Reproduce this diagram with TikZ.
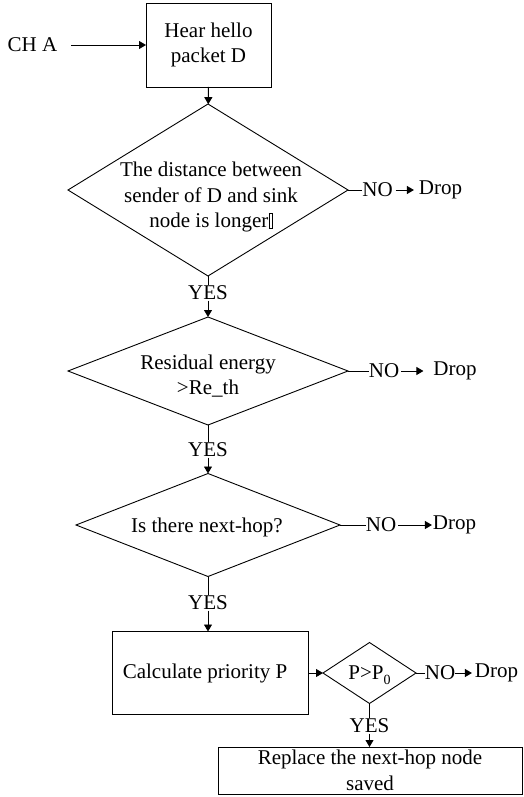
\documentclass[tikz,border=0pt]{standalone}
\usepackage{fontspec}
\setmainfont{Liberation Serif}
\usetikzlibrary{shapes.geometric,arrows.meta}
% empty glyph box printed after "longer"
\newcommand\missingglyph{\kern0.5pt\raisebox{-0.5pt}{\setlength\fboxsep{0pt}\setlength\fboxrule{0.6pt}\fbox{\rule{0pt}{14pt}\rule{2.5pt}{0pt}}}}

\begin{document}
\begin{tikzpicture}[x=1pt,y=-1pt,
  every node/.style={font=\fontsize{21}{25.5}\selectfont, inner sep=0pt, outer sep=0pt},
  stepbox/.style={draw, line width=0.9pt, rectangle, align=center},
  decision/.style={draw, line width=0.9pt, diamond},
  lab/.style={inner sep=0.5pt},
  line/.style={line width=0.9pt},
  arr/.style={line width=0.9pt, -{Triangle[length=7pt,width=8pt]}},
]
\useasboundingbox (0,0) rectangle (524,797);

% process boxes
\node[stepbox, minimum width=125pt, minimum height=84pt] (hear) at (208.5,45) {Hear hello\\packet D};
\node[inner xsep=14pt] (cha) at (32.5,45) {CH A};
\node[stepbox, minimum width=196pt, minimum height=83pt] (calc) at (210,673) {Calculate priority P\hspace*{10pt}};
\node[stepbox, minimum width=304pt, minimum height=47pt] (rep) at (370,770.5) {Replace the next-hop node\\saved};

% decisions
\node[decision, minimum width=280pt, minimum height=172pt] (d1) at (208,190) {};
\node[align=center] (d1t) at (211,197) {The distance between\\sender of D and sink\\node is longer\missingglyph};
\node[decision, minimum width=280pt, minimum height=108pt] (d2) at (208,371) {};
\node[align=center] (d2t) at (208,376) {Residual energy\\>Re\_th};
\node[decision, minimum width=264pt, minimum height=103pt] (d3) at (208,525) {};
\node (d3t) at (207,527) {Is there next-hop?};
\node[decision, minimum width=93pt, minimum height=61pt] (pd) at (369.5,673) {};
\node (pdt) at (369.5,675) {P>P\raisebox{-5pt}{\fontsize{14}{14}\selectfont 0}};

% YES labels
\node[lab] (y1) at (208,293) {YES};
\node[lab] (y2) at (208,450) {YES};
\node[lab] (y3) at (208,603) {YES};
\node[lab] (y4) at (369.5,726) {YES};

% NO / Drop labels
\node (n1) at (377.5,190) {NO};
\node (x1) at (440.5,190) {Drop};
\node (n2) at (384,371) {NO};
\node (x2) at (455,371) {Drop};
\node (n3) at (381,525) {NO};
\node (x3) at (454.5,525) {Drop};
\node (n4) at (440,673) {NO};
\node (x4) at (496.5,673) {Drop};

% main flow
\draw[arr] (cha) -- (hear);
\draw[arr] (hear) -- (d1);
\draw[line] (d1) -- (y1);
\draw[arr] (y1) -- (d2);
\draw[line] (d2) -- (y2);
\draw[arr] (y2) -- (d3);
\draw[line] (d3) -- (y3);
\draw[arr] (y3.south) -- (y3.south |- calc.north);
\draw[arr] (calc.east) -- (pd.west);
\draw[line] (pd) -- (y4);
\draw[arr] (y4.south) -- (y4.south |- rep.north);

% rejection branches
\draw[line] (d1.east) -- (n1.west);
\draw[arr, shorten <=3pt, shorten >=5pt] (n1) -- (x1);
\draw[line] (d2.east) -- (n2.west);
\draw[arr, shorten <=2pt, shorten >=10pt] (n2) -- (x2);
\draw[line] (d3.east) -- (n3.west);
\draw[arr, shorten <=2pt, shorten >=1pt] (n3) -- (x3);
\draw[line] (pd.east) -- (n4.west);
\draw[arr, shorten <=0pt, shorten >=3pt] (n4) -- (x4);
\end{tikzpicture}
\end{document}
